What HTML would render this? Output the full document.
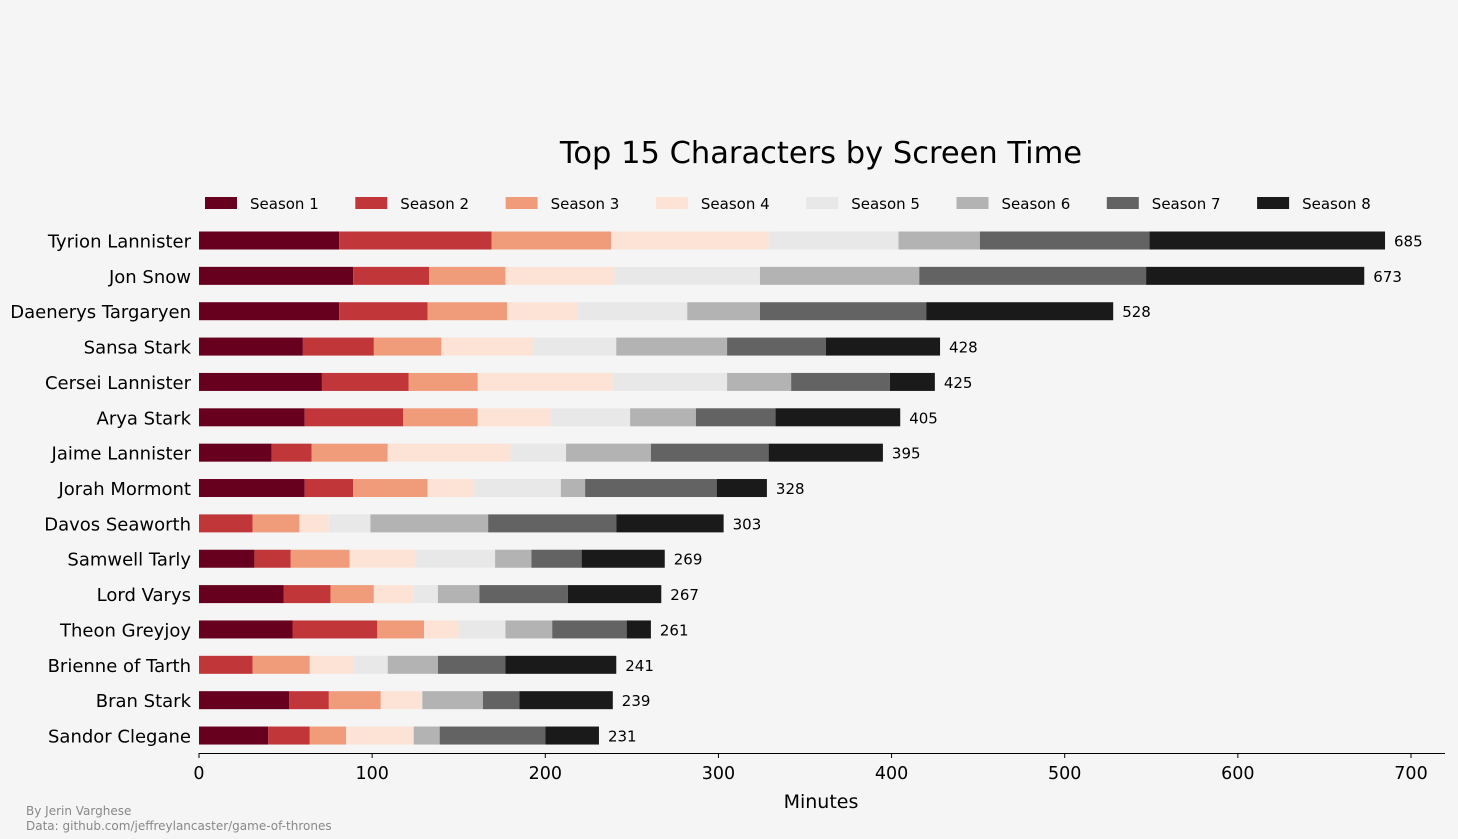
<!DOCTYPE html>
<html><head><meta charset="utf-8"><style>
body{margin:0;background:#f5f5f5;font-family:"Liberation Sans","DejaVu Sans",sans-serif}
svg{display:block}
</style></head><body>
<svg id="c" width="1458" height="839" xmlns="http://www.w3.org/2000/svg">
<rect width="1458" height="839" fill="#f5f5f5"/>
<text x="821" y="163" font-size="30.5" text-anchor="middle" font-family="DejaVu Sans,sans-serif" fill="#000">Top 15 Characters by Screen Time</text>
<text x="821" y="808" font-size="19" text-anchor="middle" font-family="DejaVu Sans,sans-serif">Minutes</text>
<text x="26" y="815" font-size="12" fill="#888" font-family="DejaVu Sans,sans-serif">By Jerin Varghese</text>
<text x="26" y="830" font-size="12" fill="#888" font-family="DejaVu Sans,sans-serif">Data: github.com/jeffreylancaster/game-of-thrones</text>
<line x1="199" y1="753.5" x2="1445" y2="753.5" stroke="#000" stroke-width="1"/>
<g id="g"></g>
</svg>
<script>
const characters=["Tyrion Lannister","Jon Snow","Daenerys Targaryen","Sansa Stark","Cersei Lannister","Arya Stark","Jaime Lannister","Jorah Mormont","Davos Seaworth","Samwell Tarly","Lord Varys","Theon Greyjoy","Brienne of Tarth","Bran Stark","Sandor Clegane"];
const seasons=["Season 1","Season 2","Season 3","Season 4","Season 5","Season 6","Season 7","Season 8"];
const s1=[81,89,81,60,71,61,42,61,0,32,49,54,0,52,40];
const s2=[88,44,51,41,50,57,23,28,31,21,27,49,31,23,24];
const s3=[69,44,46,39,40,43,44,43,27,34,25,27,33,30,21];
const s4=[91,63,41,53,78,42,71,27,17,38,23,20,25,24,39];
const s5=[75,84,63,48,66,46,32,50,24,46,14,27,20,0,0];
const s6=[47,92,42,64,37,38,49,14,68,21,24,27,29,35,15];
const s7=[98,131,96,57,57,46,68,76,74,29,51,43,39,21,61];
const s8=[136,126,108,66,26,72,66,29,62,48,54,14,64,54,31];
const xTicks=[0,100,200,300,400,500,600,700];
const colors=["#67001f","#c13639","#f09c7b","#fde3d6","#e8e8e8","#b3b3b3","#636363","#1a1a1a"];
const series=[s1,s2,s3,s4,s5,s6,s7,s8];
const NS="http://www.w3.org/2000/svg";
const g=document.getElementById("g");
const x=v=>199+v*1212/700;
const y=i=>240.5+i*35.36;
function mk(t,a){const e=document.createElementNS(NS,t);for(const k in a)e.setAttribute(k,a[k]);g.appendChild(e);return e;}
characters.forEach((c,i)=>{
  let cum=0;
  series.forEach((s,k)=>{
    const v=s[i];
    const r=mk("rect",{x:x(cum),y:y(i)-9,width:Math.max(0,x(cum+v)-x(cum)),height:18,fill:colors[k]});
    
    
    cum+=v;
  });
  const t=mk("text",{x:x(cum)+9,y:y(i)+6,"font-size":15,"font-family":"DejaVu Sans,sans-serif"});
  t.textContent=cum;
  
  
  const l=mk("text",{x:191,y:y(i)+7,"font-size":18,"text-anchor":"end","font-family":"DejaVu Sans,sans-serif"});
  l.textContent=c;
  
  
});
xTicks.forEach(v=>{
  const tk=mk("line",{x1:x(v),x2:x(v),y1:753,y2:758,stroke:"#000"});
  
  
  const t=mk("text",{x:x(v),y:779,"font-size":17.5,"text-anchor":"middle","font-family":"DejaVu Sans,sans-serif"});
  t.textContent=v;
  
  
});
seasons.forEach((s,k)=>{
  const lx=205+k*150.3;
  const r=mk("rect",{x:lx,y:197,width:32,height:12,fill:colors[k]});
  
  
  const t=mk("text",{x:lx+45,y:209,"font-size":15,"font-family":"DejaVu Sans,sans-serif"});
  t.textContent=s;
  
  
});
</script>
</body></html>
